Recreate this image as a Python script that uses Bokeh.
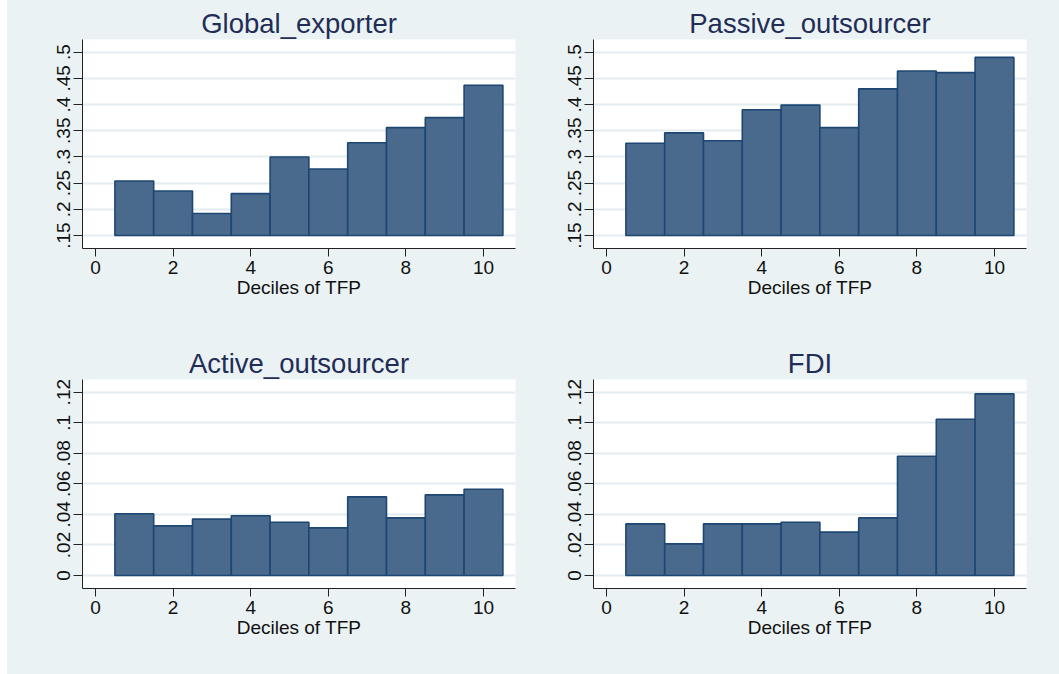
from bokeh.plotting import figure
from bokeh.layouts import column, row
from bokeh.models import FixedTicker, CustomJSTickFormatter, Range1d
from bokeh.embed import file_html
from bokeh.resources import INLINE

# ---- data ----
deciles = [1, 2, 3, 4, 5, 6, 7, 8, 9, 10]
global_exporter = [0.254, 0.235, 0.192, 0.230, 0.300, 0.277, 0.327, 0.356, 0.375, 0.437]
passive_outsourcer = [0.326, 0.346, 0.331, 0.390, 0.399, 0.356, 0.430, 0.464, 0.461, 0.490]
active_outsourcer = [0.0404, 0.0325, 0.0369, 0.0391, 0.0349, 0.0312, 0.0515, 0.0377, 0.0528, 0.0565]
fdi = [0.0338, 0.0207, 0.0338, 0.0338, 0.0349, 0.0284, 0.0377, 0.0781, 0.1023, 0.1189]

x_ticks = [0, 2, 4, 6, 8, 10]
y_ticks_top = [0.15, 0.2, 0.25, 0.3, 0.35, 0.4, 0.45, 0.5]
y_ticks_bottom = [0, 0.02, 0.04, 0.06, 0.08, 0.1, 0.12]
x_title = "Deciles of TFP"

BG = "#EAF2F3"
GRID = "#E3ECEF"
BAR_FILL = "#4A6A8D"
BAR_LINE = "#1D4772"
TITLE_COLOR = "#1F2D57"
FONT = "Liberation Sans"

fmt = CustomJSTickFormatter(code="""
var s = (+tick.toFixed(3)).toString();
return s.replace(/^0\\./, '.');
""")


def panel(title, values, yticks, yrange, base, width, height, bl, br, bt, bb):
    p = figure(width=width, height=height, output_backend="svg", toolbar_location=None,
               x_range=Range1d(-0.335, 10.825), y_range=Range1d(*yrange),
               min_border_left=bl, min_border_right=br, min_border_top=bt, min_border_bottom=bb,
               title=title)
    p.styles = {"background-color": BG}
    p.background_fill_color = "white"
    p.border_fill_color = BG
    p.outline_line_color = None
    p.title.text_font = FONT
    p.title.text_font_size = "27.5px"
    p.title.text_font_style = "normal"
    p.title.text_color = TITLE_COLOR
    p.title.align = "center"
    p.title.standoff = 2
    p.title.offset = 0

    p.vbar(x=deciles, width=1.0, bottom=base, top=values,
           fill_color=BAR_FILL, line_color=BAR_LINE, line_width=1.6)

    p.xaxis.ticker = FixedTicker(ticks=x_ticks)
    p.yaxis.ticker = FixedTicker(ticks=yticks)
    p.yaxis.formatter = fmt
    p.xgrid.visible = False
    p.ygrid.ticker = FixedTicker(ticks=yticks)
    p.ygrid.grid_line_color = GRID
    p.ygrid.grid_line_width = 2

    for ax in (p.xaxis[0], p.yaxis[0]):
        ax.axis_line_color = "#222222"
        ax.axis_line_width = 1
        ax.major_tick_line_color = "#222222"
        ax.major_tick_in = 0
        ax.minor_tick_line_color = None
        ax.major_label_text_font = FONT
        ax.major_label_text_font_size = "19px"
        ax.major_label_text_color = "#111111"
    p.xaxis.major_tick_out = 8
    p.yaxis.major_tick_out = 9
    p.xaxis.major_label_standoff = 4
    p.yaxis.major_label_standoff = 3
    p.yaxis.major_label_orientation = "vertical"
    p.xaxis.axis_label = x_title
    p.xaxis.axis_label_text_font = FONT
    p.xaxis.axis_label_text_font_size = "19px"
    p.xaxis.axis_label_text_font_style = "normal"
    p.xaxis.axis_label_text_color = "#111111"
    p.xaxis.axis_label_standoff = 0
    return p


top_range = (0.1252, 0.5242)
bot_range = (-0.0085, 0.1283)

p1 = panel("Global_exporter", global_exporter, y_ticks_top, top_range, 0.15, 543, 344, 75, 35, 39, 96)
p2 = panel("Passive_outsourcer", passive_outsourcer, y_ticks_top, top_range, 0.15, 509, 344, 43, 33, 39, 96)
p3 = panel("Active_outsourcer", active_outsourcer, y_ticks_bottom, bot_range, 0.0, 543, 330, 75, 35, 35, 86)
p4 = panel("FDI", fdi, y_ticks_bottom, bot_range, 0.0, 509, 330, 43, 33, 35, 86)

layout = column(row(p1, p2, spacing=0, styles={"background-color": BG}),
                row(p3, p4, spacing=0, styles={"background-color": BG}),
                spacing=0, styles={"background-color": BG, "margin-left": "7px"})

open("out.html", "w").write(file_html(layout, INLINE))
